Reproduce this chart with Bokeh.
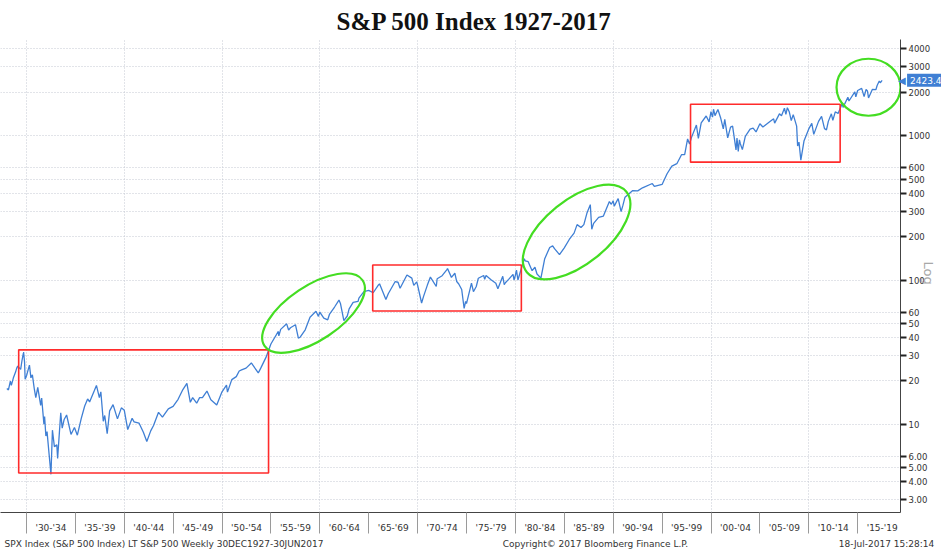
import math
from bokeh.plotting import figure
from bokeh.models import Range1d, FixedTicker, LinearAxis, Text
from bokeh.core.properties import value
from bokeh.embed import file_html
from bokeh.resources import INLINE

# ---- data ----
dates = [1927.99, 1928.15, 1928.35, 1928.45, 1928.65, 1928.88, 1928.99, 1929.1, 1929.4, 1929.55,
         1929.7, 1929.8, 1929.86, 1930.0, 1930.3, 1930.45, 1930.6, 1930.8, 1930.95, 1931.15,
         1931.45, 1931.55, 1931.78, 1931.85, 1931.98, 1932.1, 1932.3, 1932.5, 1932.65, 1932.85,
         1933.1, 1933.18, 1933.5, 1933.65, 1933.85, 1934.1, 1934.55, 1934.9, 1935.2, 1935.6,
         1935.95, 1936.25, 1936.45, 1936.95, 1937.15, 1937.45, 1937.6, 1937.85, 1938.0, 1938.25,
         1938.5, 1938.85, 1939.3, 1939.7, 1940.0, 1940.35, 1940.8, 1941.0, 1941.5, 1941.95,
         1942.3, 1942.7, 1942.99, 1943.5, 1943.9, 1944.5, 1944.99, 1945.5, 1945.99, 1946.4,
         1946.75, 1946.99, 1947.4, 1947.7, 1947.99, 1948.45, 1948.85, 1949.45, 1949.99, 1950.45,
         1950.55, 1950.99, 1951.45, 1951.75, 1951.99, 1952.45, 1952.99, 1953.7, 1953.99, 1954.5,
         1954.99, 1955.75, 1955.8, 1955.99, 1956.6, 1956.8, 1956.99, 1957.5, 1957.8, 1958.0,
         1958.5, 1958.99, 1959.6, 1959.85, 1959.99, 1960.4, 1960.8, 1960.99, 1961.5, 1961.95,
         1962.1, 1962.45, 1962.8, 1962.99, 1963.4, 1963.9, 1963.99, 1964.5, 1964.99, 1965.45,
         1965.99, 1966.1, 1966.75, 1966.99, 1967.7, 1967.99, 1968.2, 1968.9, 1969.4, 1969.6,
         1969.9, 1969.99, 1970.4, 1970.6, 1970.99, 1971.3, 1971.9, 1971.99, 1972.5, 1972.99,
         1973.05, 1973.45, 1973.8, 1973.99, 1974.2, 1974.5, 1974.75, 1974.9, 1974.99, 1975.5,
         1975.7, 1975.99, 1976.2, 1976.75, 1976.85, 1976.99, 1977.5, 1977.99, 1978.2, 1978.7,
         1978.85, 1978.99, 1979.3, 1979.75, 1979.85, 1979.99, 1980.1, 1980.25, 1980.5, 1980.9,
         1980.99, 1981.3, 1981.7, 1981.99, 1982.2, 1982.6, 1982.99, 1983.5, 1983.8, 1983.99,
         1984.5, 1984.99, 1985.5, 1985.99, 1986.3, 1986.7, 1986.99, 1987.3, 1987.65, 1987.8,
         1987.99, 1988.5, 1988.99, 1989.6, 1989.8, 1989.99, 1990.1, 1990.5, 1990.8, 1990.99,
         1991.2, 1991.99, 1992.5, 1992.99, 1993.99, 1994.2, 1994.99, 1995.5, 1995.99, 1996.5,
         1996.99, 1997.3, 1997.6, 1997.8, 1997.99, 1998.5, 1998.7, 1998.99, 1999.5, 1999.8,
         1999.99, 2000.15, 2000.25, 2000.4, 2000.7, 2000.99, 2001.25, 2001.4, 2001.7, 2001.99,
         2002.2, 2002.55, 2002.65, 2002.78, 2002.9, 2002.99, 2003.2, 2003.5, 2003.99, 2004.3,
         2004.6, 2004.99, 2005.3, 2005.99, 2006.4, 2006.5, 2006.99, 2007.2, 2007.5, 2007.65,
         2007.8, 2007.99, 2008.2, 2008.4, 2008.75, 2008.85, 2008.99, 2009.18, 2009.5, 2009.99,
         2010.3, 2010.5, 2010.99, 2011.3, 2011.6, 2011.8, 2011.99, 2012.3, 2012.45, 2012.7,
         2012.99, 2013.4, 2013.5, 2013.99, 2014.1, 2014.7, 2014.8, 2014.99, 2015.4, 2015.65,
         2015.85, 2015.99, 2016.1, 2016.5, 2016.85, 2016.99, 2017.2, 2017.3, 2017.49]

spx = [17.7, 17.3, 19.9, 18.6, 20.9, 23.0, 24.4, 25.3, 24.0, 28.0,
       31.7, 27.0, 20.5, 21.7, 25.7, 21.0, 22.0, 17.5, 15.3, 18.0,
       13.5, 15.2, 10.0, 11.3, 8.3, 8.9, 6.3, 4.5, 9.1, 7.0,
       7.2, 5.8, 12.0, 9.4, 10.8, 11.6, 8.5, 9.5, 8.4, 11.0,
       13.4, 15.0, 14.3, 17.2, 18.6, 15.3, 16.8, 10.5, 11.5, 8.6,
       12.4, 13.7, 10.9, 13.0, 12.5, 9.2, 11.0, 10.4, 10.2, 8.8,
       7.6, 9.0, 9.8, 12.1, 11.2, 12.8, 13.3, 14.9, 17.4, 19.2,
       14.2, 15.3, 14.0, 15.3, 15.3, 17.0, 14.8, 13.6, 16.8, 18.7,
       16.7, 20.4, 21.4, 23.4, 23.8, 24.5, 26.6, 22.7, 24.8, 29.2,
       36.0, 44.0, 41.0, 45.5, 49.7, 45.0, 46.7, 49.0, 39.5, 40.3,
       45.2, 55.2, 60.7, 56.0, 59.9, 54.4, 53.0, 58.1, 65.0, 72.6,
       68.8, 52.3, 56.3, 63.1, 70.0, 71.0, 75.0, 83.0, 84.7, 81.6,
       92.4, 94.1, 73.2, 80.3, 97.6, 96.5, 87.7, 108.4, 103.0, 91.8,
       97.0, 92.1, 69.3, 77.0, 92.2, 104.8, 90.2, 102.1, 107.1, 118.1,
       120.2, 104.3, 111.4, 97.6, 93.8, 86.0, 63.5, 71.0, 68.6, 95.2,
       83.0, 90.2, 102.8, 107.5, 101.0, 107.5, 100.5, 95.1, 87.0, 106.0,
       93.0, 96.1, 101.0, 109.3, 100.0, 107.9, 117.0, 100.0, 114.0, 140.5,
       135.8, 134.0, 116.0, 122.6, 110.0, 103.0, 140.6, 168.0, 172.6, 164.9,
       150.0, 167.2, 191.0, 211.3, 242.0, 231.0, 242.2, 290.0, 333.0, 225.0,
       247.1, 272.0, 277.7, 350.0, 335.0, 353.4, 325.0, 367.0, 298.0, 330.2,
       375.0, 417.1, 415.0, 435.7, 466.5, 445.0, 459.3, 545.0, 615.9, 640.0,
       740.7, 740.0, 950.0, 876.0, 970.4, 1186.0, 957.0, 1229.2, 1370.0, 1247.0,
       1469.3, 1346.0, 1527.0, 1378.0, 1520.0, 1320.3, 1117.0, 1300.0, 965.8, 1148.1,
       1166.0, 797.7, 962.0, 776.8, 936.0, 879.8, 800.7, 990.0, 1111.9, 1130.0,
       1063.0, 1211.9, 1150.0, 1248.3, 1310.0, 1223.0, 1418.3, 1377.0, 1552.0, 1406.0,
       1565.0, 1468.4, 1273.0, 1400.0, 1166.0, 848.0, 903.3, 676.5, 919.0, 1115.1,
       1217.0, 1022.0, 1257.6, 1363.0, 1119.0, 1099.0, 1257.6, 1419.0, 1278.0, 1465.0,
       1426.2, 1669.0, 1573.0, 1848.4, 1741.0, 2011.0, 1862.0, 2058.9, 2130.0, 1867.0,
       2090.0, 2043.9, 1829.0, 2099.0, 2085.0, 2238.8, 2395.0, 2328.0, 2423.41]

last_date = 2017.49
last_value = 2423.41

y_ticks = [3, 4, 5, 6, 10, 20, 30, 40, 50, 60, 100, 200, 300, 400, 500, 600, 1000, 2000, 3000, 4000]
y_tick_labels = ["3.00", "4.00", "5.00", "6.00", "10", "20", "30", "40", "50", "60",
                 "100", "200", "300", "400", "500", "600", "1000", "2000", "3000", "4000"]

period_starts = [1930, 1935, 1940, 1945, 1950, 1955, 1960, 1965, 1970, 1975,
                 1980, 1985, 1990, 1995, 2000, 2005, 2010, 2015]
period_labels = ["'30-'34", "'35-'39", "'40-'44", "'45-'49", "'50-'54", "'55-'59", "'60-'64",
                 "'65-'69", "'70-'74", "'75-'79", "'80-'84", "'85-'89", "'90-'94", "'95-'99",
                 "'00-'04", "'05-'09", "'10-'14", "'15-'19"]
grid_years = [1930, 1940, 1950, 1960, 1970, 1980, 1990, 2000, 2010]

footer_texts = ["SPX Index (S&P 500 Index) LT S&P 500  Weekly 30DEC1927-30JUN2017",
                "Copyright\u00a9 2017 Bloomberg Finance L.P.",
                "18-Jul-2017 15:28:14"]

# highlighted sideways periods (red boxes)
box_start = [1929.2, 1965.4, 1997.9]
box_end = [1954.75, 1980.6, 2013.2]
box_low = [4.6, 61.0, 656.0]
box_high = [32.8, 127.0, 1652.0]

# highlighted rising periods (green ellipses) - centre in data units
ell_year = [1959.35, 1986.25, 2016.1]
ell_value = [59.0, 215.0, 2167.0]

# ---- figure ----
X0, X1 = 1927.34, 2019.37
W, H = 941, 551
p = figure(width=W, height=H, y_axis_type="log",
           x_range=Range1d(X0, X1), y_range=Range1d(2.447, 4645),
           y_axis_location="right", output_backend="svg", toolbar_location=None,
           min_border_left=0, min_border_right=41, min_border_top=38, min_border_bottom=39)
p.outline_line_color = None
p.background_fill_color = "white"
p.border_fill_color = "white"

# title
p.title.text = "S&P 500 Index 1927-2017"
p.title.align = "left"
p.title.offset = 336
p.title.text_font = "Liberation Serif"
p.title.text_font_style = "bold"
p.title.text_font_size = "25px"
p.title.text_color = "#111111"

# y axis (right, log)
ya = p.yaxis[0]
ya.ticker = FixedTicker(ticks=y_ticks)
ya.major_label_overrides = {v: s for v, s in zip(y_ticks, y_tick_labels)}
ya.minor_tick_line_color = None
ya.major_tick_in = 0
ya.major_tick_out = 6
ya.major_tick_line_color = "#222222"
ya.major_tick_line_width = 2
ya.major_label_standoff = 2
ya.major_label_text_font = "DejaVu Sans"
ya.major_label_text_font_size = "8.5px"
ya.major_label_text_color = "#333333"
ya.axis_line_color = "#444444"

# x axis (periods)
mids = [s + 2.5 for s in period_starts]
xa = p.xaxis[0]
xa.ticker = FixedTicker(ticks=mids, minor_ticks=period_starts)
xa.major_label_overrides = {m: s for m, s in zip(mids, period_labels)}
xa.major_tick_line_color = None
xa.major_tick_out = 0
xa.minor_tick_in = 0
xa.minor_tick_out = 21
xa.minor_tick_line_color = "#9a9a9a"
xa.major_label_standoff = -11
xa.major_label_text_font = "DejaVu Sans"
xa.major_label_text_font_size = "9px"
xa.major_label_text_color = "#333333"
xa.axis_line_color = "#444444"

# footer line as a bare second axis below
footer_pos = [1944.21, 1988.18, 2017.94]
fa = LinearAxis(ticker=FixedTicker(ticks=footer_pos),
                major_label_overrides={m: s for m, s in zip(footer_pos, footer_texts)})
fa.axis_line_color = None
fa.major_tick_line_color = None
fa.minor_tick_line_color = None
fa.major_tick_out = 0
fa.minor_tick_out = 0
fa.major_label_standoff = 3
fa.major_label_text_font = "DejaVu Sans"
fa.major_label_text_font_size = "9px"
fa.major_label_text_color = "#333333"
p.add_layout(fa, "below")

# grids
p.xgrid.ticker = FixedTicker(ticks=grid_years)
p.ygrid.ticker = FixedTicker(ticks=y_ticks)
for g in (p.xgrid, p.ygrid):
    g.grid_line_color = "#c4c8d2"
    g.grid_line_dash = "1 2"
    g.grid_line_width = 1

# series
p.line(dates, spx, line_color="#3F7FD4", line_width=1.3)

# red boxes
p.quad(left=box_start, right=box_end, bottom=box_low, top=box_high,
       fill_color=None, line_color="#FF2B2B", line_width=1.6)

# green ellipses (screen-sized)
p.ellipse(x=ell_year, y=ell_value, width=[118, 128, 64], height=[54, 64, 57],
          angle=[0.59, 0.68, 0.0], width_units="screen", height_units="screen",
          fill_color=None, line_color="#44DD22", line_width=2.2)

# last value tag, drawn at overlay level (anchored just inside the frame, offset onto the axis)
anchor_x = X1 - 0.35
p.text(x=[anchor_x], y=[last_value], text=["\u25c0"], x_offset=1, level="overlay",
       text_color="#3F7FD4", text_font=value("DejaVu Sans"), text_font_size="10px",
       text_align="left", text_baseline="middle")
tag_kw = dict(x=[anchor_x], y=[last_value], text=[f"{last_value:.2f}"], x_offset=10,
              level="overlay", text_color="white", text_font=value("DejaVu Sans"),
              text_font_size="9px", text_align="left", text_baseline="middle")
if "background_fill_color" in Text.properties():
    tag_kw.update(background_fill_color="#3F7FD4", padding=3)
else:
    tag_kw.update(text_color="#3F7FD4")
p.text(**tag_kw)

# "Log" scale note
p.text(x=[anchor_x], y=[111.7], text=["Log"], x_offset=31, angle=-math.pi / 2,
       level="overlay", text_color="#a8a8a8", text_font=value("DejaVu Sans"),
       text_font_size="13px", text_align="center", text_baseline="middle")

open("out.html", "w").write(file_html(p, INLINE))
